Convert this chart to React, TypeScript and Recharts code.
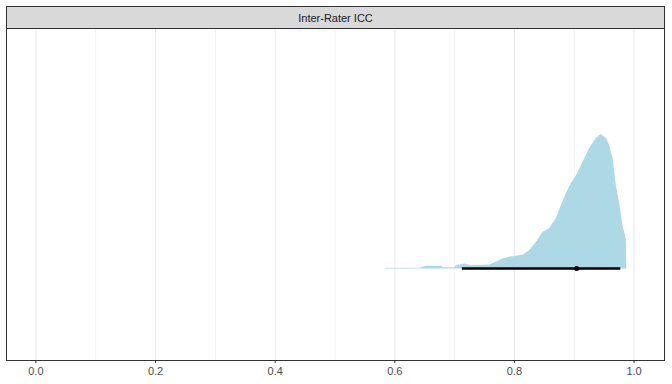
import {
  Area,
  CartesianGrid,
  ComposedChart,
  ReferenceDot,
  ReferenceLine,
  XAxis,
  YAxis,
} from "recharts";

// posterior density of the inter-rater ICC (scaled so the mode = 1)
const ICC_VALUES = [
  0.583, 0.64, 0.652, 0.677, 0.68, 0.7, 0.702, 0.716, 0.727, 0.758, 0.769,
  0.78, 0.791, 0.802, 0.814, 0.825, 0.836, 0.847, 0.858, 0.869, 0.88, 0.891,
  0.903, 0.914, 0.925, 0.936, 0.944, 0.953, 0.958, 0.964, 0.969, 0.975, 0.981,
  0.986, 0.987,
];
const DENSITY = [
  0.006, 0.006, 0.02, 0.02, 0.01, 0.01, 0.025, 0.037, 0.025, 0.03, 0.05,
  0.075, 0.087, 0.095, 0.104, 0.137, 0.199, 0.274, 0.299, 0.373, 0.498, 0.61,
  0.696, 0.796, 0.896, 0.97, 1.0, 0.97, 0.92, 0.821, 0.634, 0.485, 0.311,
  0.224, 0,
];

const MEDIAN = 0.904;
const INTERVAL = [0.712, 0.977];

const X_TICKS = [0, 0.2, 0.4, 0.6, 0.8, 1.0];
const X_MINOR = [0.1, 0.3, 0.5, 0.7, 0.9];

const FACET_LABEL = "Inter-Rater ICC";

const W = 672;
const H = 384;
const FONT = '"Liberation Sans", Arial, sans-serif';

export default function App() {
  const data = ICC_VALUES.map((x, i) => ({ x, d: DENSITY[i] }));

  return (
    <div
      style={{
        position: "absolute",
        left: 0,
        top: 0,
        width: W,
        height: H,
        background: "#fff",
        fontFamily: FONT,
      }}
    >
      <ComposedChart
        width={W}
        height={H}
        data={data}
        margin={{ top: 28, right: 8, bottom: 0, left: 6 }}
      >
        <CartesianGrid horizontal={false} stroke="#f3f3f3" verticalValues={X_MINOR} />
        <CartesianGrid horizontal={false} stroke="#ebebeb" verticalValues={X_TICKS} />
        <XAxis
          dataKey="x"
          type="number"
          domain={[-0.05, 1.05]}
          ticks={X_TICKS}
          allowDataOverflow
          tickFormatter={(v: number) => v.toFixed(1)}
          axisLine={false}
          tickLine={{ stroke: "#333333" }}
          tickSize={3}
          tickMargin={4}
          height={24}
          tick={{ fill: "#4d4d4d", fontSize: 11, fontFamily: FONT }}
        />
        <YAxis type="number" domain={[-0.68, 1.788]} hide width={0} allowDataOverflow />
        <Area
          type="linear"
          dataKey="d"
          baseValue={0}
          stroke="none"
          fill="#add8e6"
          fillOpacity={1}
          isAnimationActive={false}
        />
        <ReferenceLine
          segment={[
            { x: INTERVAL[0], y: 0 },
            { x: INTERVAL[1], y: 0 },
          ]}
          stroke="#000"
          strokeWidth={2.6}
        />
        <ReferenceDot x={MEDIAN} y={0} r={2.5} fill="#000" stroke="none" />
      </ComposedChart>

      {/* panel border */}
      <div
        style={{
          position: "absolute",
          left: 6,
          top: 28,
          width: 659,
          height: 333,
          border: "1px solid #333333",
          boxSizing: "border-box",
          pointerEvents: "none",
        }}
      />
      {/* facet strip */}
      <div
        style={{
          position: "absolute",
          left: 6,
          top: 6,
          width: 659,
          height: 23,
          background: "#d9d9d9",
          border: "1px solid #333333",
          boxSizing: "border-box",
          display: "flex",
          alignItems: "center",
          justifyContent: "center",
          fontSize: 11,
          color: "#1a1a1a",
        }}
      >
        {FACET_LABEL}
      </div>
    </div>
  );
}
